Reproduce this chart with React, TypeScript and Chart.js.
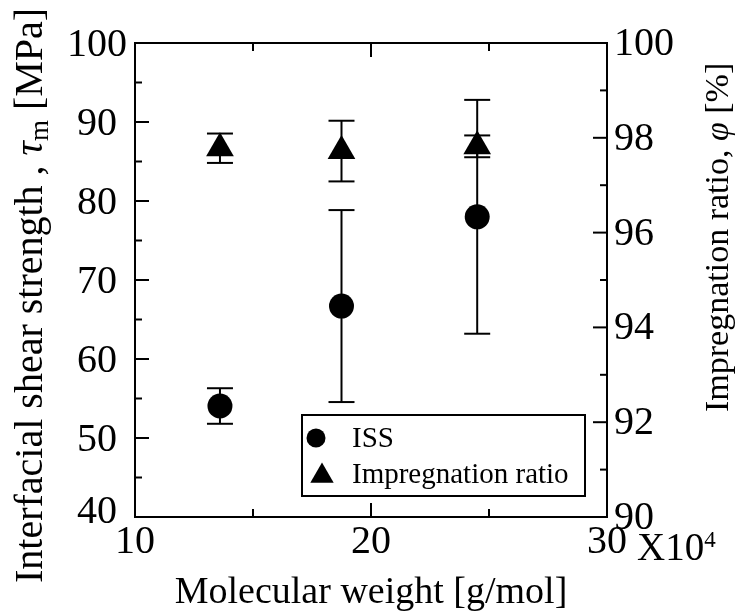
import React, { useEffect, useRef } from "react";
import { Chart, registerables } from "chart.js";

Chart.register(...registerables);

// ---- data ----
const molecularWeight = [13.6, 18.75, 24.5]; // x10^4 g/mol
const issMean = [54.05, 66.7, 78.0]; // MPa
const issError = [2.25, 12.15, 14.8];
const impregnationMean = [97.78, 97.72, 97.82]; // %
const impregnationError = [0.31, 0.64, 0.23];

const seriesLabels = ["ISS", "Impregnation ratio"];

// ---- axis ticks ----
const xMajorTicks = [10, 20, 30];
const xMinorTicks = [15, 25];
const leftMajorTicks = [40, 50, 60, 70, 80, 90, 100];
const leftMinorTicks = [45, 55, 65, 75, 85, 95];
const rightMajorTicks = [90, 92, 94, 96, 98, 100];
const rightMinorTicks = [91, 93, 95, 97, 99];

const FONT = '"Liberation Serif", "Times New Roman", serif';

type Piece = { text: string; font: string; dy?: number };

function drawPieces(ctx: CanvasRenderingContext2D, pieces: Piece[]) {
  let cx = 0;
  for (const p of pieces) {
    ctx.font = p.font;
    ctx.fillText(p.text, cx, p.dy || 0);
    cx += ctx.measureText(p.text).width;
  }
  return cx;
}

const customPlugin = {
  id: "customDecor",
  beforeDatasetsDraw(chart: any) {
    const { ctx, chartArea: a, scales } = chart;
    const xs = scales.x;
    const ys = scales.y;
    const y2s = scales.y2;
    ctx.save();
    ctx.strokeStyle = "#000";
    ctx.lineWidth = 2;
    ctx.lineCap = "butt";
    const line = (x1: number, y1: number, x2: number, y2: number) => {
      ctx.beginPath();
      ctx.moveTo(x1, y1);
      ctx.lineTo(x2, y2);
      ctx.stroke();
    };
    ctx.strokeRect(a.left, a.top, a.right - a.left, a.bottom - a.top);

    xMajorTicks.forEach((v) => {
      const px = xs.getPixelForValue(v);
      line(px, a.bottom, px, a.bottom - 14);
      line(px, a.top, px, a.top + 14);
    });
    xMinorTicks.forEach((v) => {
      const px = xs.getPixelForValue(v);
      line(px, a.bottom, px, a.bottom - 8);
      line(px, a.top, px, a.top + 8);
    });
    leftMajorTicks.forEach((v) => {
      const py = ys.getPixelForValue(v);
      line(a.left, py, a.left + 14, py);
    });
    leftMinorTicks.forEach((v) => {
      const py = ys.getPixelForValue(v);
      line(a.left, py, a.left + 7, py);
    });
    rightMajorTicks.forEach((v) => {
      const py = y2s.getPixelForValue(v);
      line(a.right, py, a.right - 14, py);
    });
    rightMinorTicks.forEach((v) => {
      const py = y2s.getPixelForValue(v);
      line(a.right, py, a.right - 7, py);
    });

    // error bars
    const cap = 13;
    const drawErr = (means: number[], errs: number[], scale: any) => {
      means.forEach((m, i) => {
        const px = xs.getPixelForValue(molecularWeight[i]);
        const top = scale.getPixelForValue(m + errs[i]);
        const bot = scale.getPixelForValue(m - errs[i]);
        line(px, top, px, bot);
        line(px - cap, top, px + cap, top);
        line(px - cap, bot, px + cap, bot);
      });
    };
    drawErr(issMean, issError, ys);
    drawErr(impregnationMean, impregnationError, y2s);
    ctx.restore();
  },
  afterDraw(chart: any) {
    const { ctx, chartArea: a, scales } = chart;
    const xs = scales.x;
    const ys = scales.y;
    const y2s = scales.y2;
    ctx.save();
    ctx.fillStyle = "#000";
    const tickFont = `40px ${FONT}`;
    ctx.font = tickFont;
    ctx.textBaseline = "alphabetic";

    // left tick labels (centered)
    ctx.textAlign = "center";
    leftMajorTicks.forEach((v) => {
      const py = ys.getPixelForValue(v);
      ctx.fillText(String(v), a.left - 38, Math.min(py + 13, a.bottom + 6));
    });
    // right tick labels
    ctx.textAlign = "left";
    rightMajorTicks.forEach((v) => {
      const py = y2s.getPixelForValue(v);
      ctx.fillText(String(v), a.right + 7, py + 12);
    });
    // x tick labels
    ctx.textAlign = "center";
    xMajorTicks.forEach((v) => {
      const px = xs.getPixelForValue(v);
      ctx.fillText(String(v), px, a.bottom + 36);
    });
    // X10^4 multiplier
    ctx.textAlign = "left";
    ctx.font = `39px ${FONT}`;
    const mx = a.right + 30;
    ctx.fillText("X10", mx, a.bottom + 43);
    const w = ctx.measureText("X10").width;
    ctx.font = `23px ${FONT}`;
    ctx.fillText("4", mx + w, a.bottom + 30);

    // x axis title
    ctx.textAlign = "center";
    ctx.font = `38px ${FONT}`;
    ctx.fillText("Molecular weight [g/mol]", (a.left + a.right) / 2, a.bottom + 86);

    // left axis title
    ctx.textAlign = "left";
    ctx.save();
    ctx.translate(42, 583);
    ctx.rotate(-Math.PI / 2);
    drawPieces(ctx, [
      { text: "Interfacial shear strength , ", font: `40px ${FONT}` },
      { text: "\u03c4", font: `italic 40px ${FONT}` },
      { text: "m", font: `27px ${FONT}`, dy: 6 },
      { text: " [MPa]", font: `40px ${FONT}` },
    ]);
    ctx.restore();

    // right axis title
    ctx.save();
    ctx.translate(728, 412);
    ctx.rotate(-Math.PI / 2);
    drawPieces(ctx, [
      { text: "Impregnation ratio, ", font: `34px ${FONT}` },
      { text: "\u03c6", font: `italic 34px ${FONT}` },
      { text: " [%]", font: `34px ${FONT}` },
    ]);
    ctx.restore();

    // legend
    const lx = a.left + 167;
    const ly = a.top + 372;
    const lw = 283;
    const lh = 81;
    ctx.fillStyle = "#fff";
    ctx.fillRect(lx, ly, lw, lh);
    ctx.strokeStyle = "#000";
    ctx.lineWidth = 2;
    ctx.strokeRect(lx, ly, lw, lh);
    ctx.fillStyle = "#000";
    // circle
    ctx.beginPath();
    ctx.arc(lx + 14, ly + 23, 9.5, 0, Math.PI * 2);
    ctx.fill();
    // triangle
    const tx = lx + 20;
    const ty = ly + 61;
    const r = 13.5;
    ctx.beginPath();
    ctx.moveTo(tx, ty - r);
    ctx.lineTo(tx + r * Math.sin((2 * Math.PI) / 3), ty + r / 2);
    ctx.lineTo(tx - r * Math.sin((2 * Math.PI) / 3), ty + r / 2);
    ctx.closePath();
    ctx.fill();
    ctx.font = `29px ${FONT}`;
    ctx.textAlign = "left";
    ctx.fillText(seriesLabels[0], lx + 50, ly + 32);
    ctx.fillText(seriesLabels[1], lx + 50, ly + 68);
    ctx.restore();
  },
};

export default function App() {
  const canvasRef = useRef<HTMLCanvasElement | null>(null);

  useEffect(() => {
    if (!canvasRef.current) return;
    const chart = new Chart(canvasRef.current, {
      type: "scatter",
      data: {
        datasets: [
          {
            label: seriesLabels[0],
            data: molecularWeight.map((m, i) => ({ x: m, y: issMean[i] })),
            yAxisID: "y",
            pointStyle: "circle",
            pointRadius: 12.5,
            pointHoverRadius: 12.5,
            backgroundColor: "#000",
            borderColor: "#000",
            borderWidth: 0,
            showLine: false,
          },
          {
            label: seriesLabels[1],
            data: molecularWeight.map((m, i) => ({ x: m, y: impregnationMean[i] })),
            yAxisID: "y2",
            pointStyle: "triangle",
            pointRadius: 16,
            pointHoverRadius: 16,
            backgroundColor: "#000",
            borderColor: "#000",
            borderWidth: 0,
            showLine: false,
          },
        ],
      },
      options: {
        responsive: false,
        animation: false,
        events: [],
        layout: { padding: { left: 135, right: 132, top: 43, bottom: 96 } },
        plugins: { legend: { display: false }, tooltip: { enabled: false } },
        scales: {
          x: { type: "linear", display: false, min: 10, max: 30 },
          y: { type: "linear", display: false, min: 40, max: 100, position: "left" },
          y2: { type: "linear", display: false, min: 90, max: 100, position: "right" },
        },
      },
      plugins: [customPlugin],
    });
    return () => chart.destroy();
  }, []);

  return (
    <div style={{ position: "absolute", left: 0, top: 0, width: 739, height: 613, background: "#fff" }}>
      <canvas ref={canvasRef} width={739} height={613} style={{ display: "block" }} />
    </div>
  );
}
